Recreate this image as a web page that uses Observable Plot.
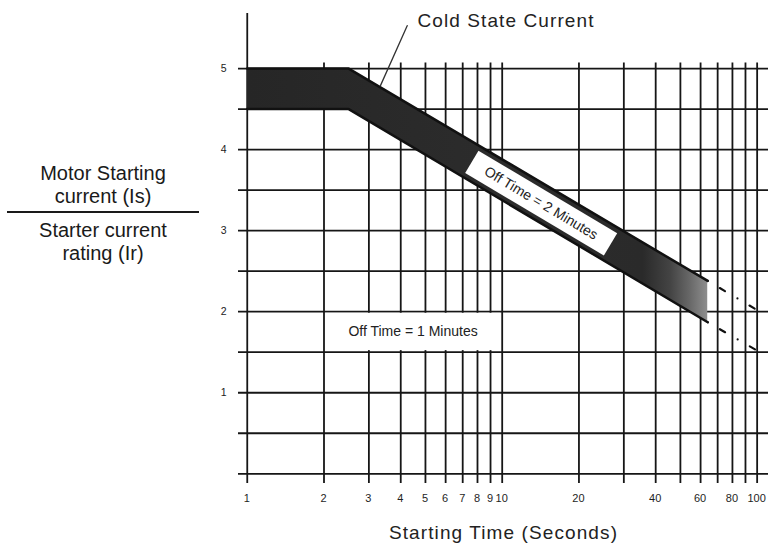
<!DOCTYPE html>
<html><head><meta charset="utf-8">
<script src="https://cdn.jsdelivr.net/npm/d3@7"></script>
<script src="https://cdn.jsdelivr.net/npm/@observablehq/plot@0.6"></script>
<style>
body{margin:0;background:#fff;}
#wrap{position:relative;width:778px;height:550px;}
#ylab{position:absolute;left:7px;top:162px;width:192px;font-family:"Liberation Sans",Arial,sans-serif;font-size:20px;line-height:23px;text-align:center;color:#1a1a1a;}
#ylab .num{padding-bottom:3px;border-bottom:2px solid #1a1a1a;}
#ylab .den{padding-top:5.5px;}
.xt{position:absolute;top:491px;width:30px;margin-left:-15px;text-align:center;font-family:"Liberation Sans",Arial,sans-serif;font-size:11px;line-height:14px;color:#1e1e1e;}
</style></head><body>
<div id="wrap"><div id="ylab"><div class="num">Motor Starting<br>current (Is)</div><div class="den">Starter current<br>rating (Ir)</div></div></div>
<script>
// ---- data ----
const xTickLabels = [1,2,3,4,5,6,7,8,9,10,20,40,60,80,100];
const xGrid = [2,3,4,5,6,7,8,9,10,20,30,40,50,60,70,80,90,100];
const yGrid = [0,0.5,1,1.5,2,2.5,3,3.5,4,4.5,5];
const yTickLabels = [1,2,3,4,5];
const coldX = [1, 2.5, 64];
const coldUpper = [5, 5, 2.38];
const coldLower = [4.5, 4.5, 1.87];
const extX = [64, 100];
const extUpper = [2.38, 2.02];
const extLower = [1.87, 1.52];
const off2X = [7.6, 26.6];
const off2Y = [3.85, 2.83];
const off1Box = [{x1: 2, x2: 10, y1: 1.5, y2: 2}];
const labels = [
  {x: 4.47, y: 1.75, text: "Off Time = 1 Minutes"},
];
const off2Label = [{x: 14.2, y: 3.34, text: "Off Time = 2 Minutes"}];
const coldLabel = [{x: 4.65, y: 5.59, text: "Cold State Current"}];
const leaderX = [4.24, 3.33];
const leaderY = [5.53, 4.79];

const band = coldX.map((x, i) => ({x, lo: coldLower[i], hi: coldUpper[i]}));
const ext = extX.map((x, i) => ({x, lo: extLower[i], hi: extUpper[i]}));
const off2 = off2X.map((x, i) => ({x, y: off2Y[i]}));
const leader = leaderX.map((x, i) => ({x, y: leaderY[i]}));

const ink = "#161616";
const chart = Plot.plot({
  width: 778, height: 550,
  marginLeft: 238, marginRight: 10, marginTop: 13, marginBottom: 67,
  style: {fontFamily: "'Liberation Sans', Arial, sans-serif", background: "white", color: "#222", overflow: "visible"},
  x: {type: "log", domain: [0.924, 110.8], axis: null},
  y: {domain: [-0.12, 5.68], axis: null},
  marks: [
    Plot.ruleY(yGrid, {stroke: ink, strokeWidth: 1.8}),
    Plot.ruleX(xGrid, {y1: -0.12, y2: 5.07, stroke: ink, strokeWidth: 1.8}),
    Plot.ruleX([1], {stroke: ink, strokeWidth: 1.8}),
    Plot.rect(off1Box, {x1: "x1", x2: "x2", y1: "y1", y2: "y2", fill: "white", inset: 1.6}),
    Plot.text(labels, {x: "x", y: "y", text: "text", fontSize: 14, fill: "#222"}),
    Plot.areaY(band, {x: "x", y1: "lo", y2: "hi", fill: "url(#coldGrad)"}),
    Plot.line(band, {x: "x", y: "hi", stroke: "#111", strokeWidth: 2.5}),
    Plot.line(band, {x: "x", y: "lo", stroke: "#111", strokeWidth: 2.5}),
    Plot.line(ext, {x: "x", y: "hi", stroke: "#111", strokeWidth: 2.2, strokeDasharray: "0,14,6,14.5"}),
    Plot.line(ext, {x: "x", y: "lo", stroke: "#111", strokeWidth: 2.2, strokeDasharray: "0,14,6,14.5"}),
    Plot.line(off2, {x: "x", y: "y", stroke: "white", strokeWidth: 26, strokeLinecap: "butt"}),
    Plot.text(off2Label, {x: "x", y: "y", text: "text", rotate: 30.7, fontSize: 14, fill: "#222"}),
    Plot.line(leader, {x: "x", y: "y", stroke: "#333", strokeWidth: 1.3}),
    Plot.text(coldLabel, {x: "x", y: "y", text: "text", textAnchor: "start", fontSize: 19, fill: "#222"}),
    Plot.text(["Starting Time (Seconds)"], {frameAnchor: "bottom", dy: 55, fontSize: 19, fill: "#222"}),
    Plot.text(yTickLabels, {y: d => d, text: d => String(d), frameAnchor: "left", dx: -12, textAnchor: "end", fontSize: 10.5, fill: "#222"})
  ]
});
const wrap = document.getElementById("wrap");
wrap.prepend(chart);

// x tick labels positioned through Plot's own x scale
const xs = chart.scale("x");
xTickLabels.forEach(v => {
  const d = document.createElement("div");
  d.className = "xt";
  d.style.left = xs.apply(v) + "px";
  d.textContent = String(v);
  wrap.appendChild(d);
});

const svg = d3.select(chart);
const defs = svg.insert("defs", ":first-child");
const g = defs.append("linearGradient").attr("id", "coldGrad")
  .attr("x1", 0).attr("x2", 1).attr("y1", 0).attr("y2", 0);
[[0, "#262626"], [0.55, "#2c2c2c"], [0.86, "#2a2a2a"], [0.92, "#444"], [0.96, "#666"], [1, "#8e8e8e"]]
  .forEach(([o, c]) => g.append("stop").attr("offset", o).attr("stop-color", c));
svg.selectAll("text").filter(function() {
  return this.textContent === "Cold State Current" || this.textContent === "Starting Time (Seconds)";
}).attr("letter-spacing", "1.1px");
</script>
</body></html>
